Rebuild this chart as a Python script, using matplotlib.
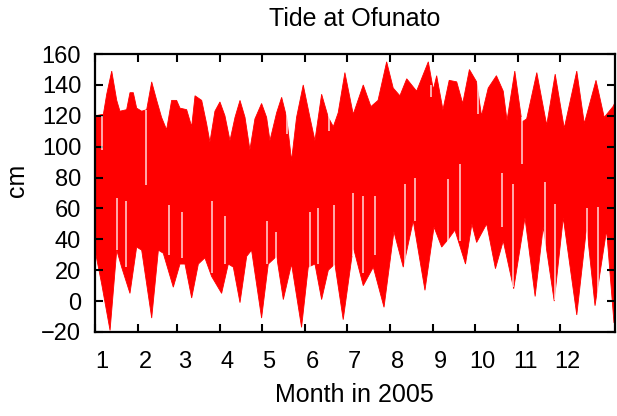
import matplotlib
matplotlib.use('Agg')
import matplotlib.pyplot as plt

plt.rcParams['font.family'] = ['Liberation Sans', 'DejaVu Sans']

# Upper envelope of the hourly record (day of year, cm)
high_day = [0, 6.0, 8.4, 12.0, 15.6, 17.9, 22.7, 25.1, 27.5, 29.9, 33.5,
            37.1, 40.7, 44.3, 47.8, 51.4, 55.0, 58.6, 61.0, 65.8, 69.4,
            71.8, 76.6, 80.1, 82.5, 86.1, 89.7, 93.3, 96.9, 100.5, 104.1,
            107.7, 111.2, 114.8, 119.6, 123.2, 125.6, 130.4, 134.0, 137.6,
            141.1, 144.7, 149.5, 154.3, 157.9, 162.7, 167.5, 171.1, 174.6,
            179.4, 185.4, 192.6, 198.1, 203.2, 209.4, 214.1, 218.9,
            223.8, 230.9, 239.3, 242.9, 245.3, 249.8, 254.3, 259.7, 264.0,
            268.8, 274.0, 277.5, 282.3, 288.2, 293.1, 295.8, 301.4, 306.5,
            309.9, 317.2, 324.3, 330.4, 336.9, 345.9, 351.3, 359.7, 365.6,
            371.9, 373]
high_cm = [120, 121, 134, 149, 130, 123, 124, 135, 135, 125, 123,
           124, 142, 130, 119, 111, 130, 130, 125, 124, 113,
           133, 130, 115, 103, 123, 129, 120, 104, 119, 130,
           119, 98, 118, 128, 119, 104, 122, 132, 119,
           91, 119, 140, 119, 104, 134, 119, 113, 122,
           148, 121, 140, 126, 130, 155, 138, 133,
           144, 136, 155, 137, 146, 124, 143, 142, 128,
           150, 142, 120, 138, 146, 136, 117, 149, 116,
           118, 148, 114, 147, 112, 149, 115, 143, 119,
           126, 128]

# Lower envelope (day of year, cm)
low_day = [0, 4.8, 10.8, 15.6, 19.1, 25.1, 29.9, 33.5, 40.7, 45.5, 49.0,
           56.2, 61.0, 64.6, 69.4, 74.2, 78.9, 83.7, 90.9, 95.7, 99.3,
           104.1, 108.9, 112.4, 119.6, 124.4, 130.4, 135.2, 141.1, 148.3,
           153.1, 157.9, 162.7, 167.5, 172.2, 178.2, 185.4, 192.6, 199.8,
           207.5, 214.6, 221.3, 228.5, 236.9, 243.4, 248.9, 253.6, 258.4,
           266.0, 270.6, 274.0, 281.2, 287.5, 293.1, 300.6, 308.7, 316.0,
           321.8, 329.7, 336.2, 345.9, 353.0, 359.0, 367.3, 372.6, 373]
low_cm = [33, 11, -19, 33, 22, 5, 35, 33, -11, 33, 31,
          9, 24, 24, 2, 24, 28, 16, 5, 24, 22,
          -1, 29, 33, -11, 24, 29, 1, 24, -17,
          22, 24, 1, 20, 24, -12, 35, 10, 22,
          -4, 45, 22, 52, 7, 48, 35, 40, 46,
          24, 50, 38, 50, 21, 39, 8, 54, 3,
          48, 0, 54, -9, 48, -3, 46, -14, -14]

# Thin white streaks where hours are missing (day, top cm, bottom cm)
gap_day = [5.0, 15.8, 22.3, 36.6, 53.1, 62.5, 84.0, 93.3, 123.5, 129.9,
           137.8, 154.3, 160.1, 167.9, 171.6, 185.2, 192.4, 201.0, 222.5,
           229.7, 241.2, 253.4, 262.0, 274.9, 292.2, 300.1, 306.5, 323.0,
           330.2, 353.2, 361.1]
gap_top = [120, 67, 65, 124, 62, 58, 65, 55, 52, 45,
           128, 58, 60, 125, 62, 70, 68, 68, 76,
           80, 140, 79, 89, 145, 83, 76, 119, 77,
           63, 60, 61]
gap_bot = [98, 33, 22, 75, 30, 28, 18, 24, 24, 12,
           108, 22, 24, 110, 14, 29, 18, 30, 20,
           52, 132, 33, 39, 121, 48, 9, 89, 20,
           1, 25, 3]

month_start = [0, 31, 59, 90, 120, 151, 181, 212, 243, 273, 304, 334]
month_labels = ['1', '2', '3', '4', '5', '6', '7', '8', '9', '10', '11', '12']
yticks = [-20, 0, 20, 40, 60, 80, 100, 120, 140, 160]

fig = plt.figure(figsize=(6.17, 4.16), dpi=100)
ax = fig.add_axes([0.154, 0.202, 0.842, 0.668])

ax.fill(high_day + low_day[::-1], high_cm + low_cm[::-1],
        color='#ff0000', lw=0.6, ec='#ff0000')
ax.vlines(gap_day, gap_bot, gap_top, color='white', lw=1.1, alpha=0.85)

ax.set_xlim(0, 373)
ax.set_ylim(-20, 160)
ax.set_yticks(yticks)

# ticks at month starts, labels a few days into each month
ax.set_xticks(month_start)
ax.set_xticklabels([])
ax.set_xticks([m + 5 for m in month_start], minor=True)
ax.set_xticklabels(month_labels, minor=True)

ax.tick_params(which='major', direction='in', top=True, right=True,
               length=6, width=1.5, labelsize=17)
ax.tick_params(axis='x', which='minor', length=0, pad=14, labelsize=17)
ax.tick_params(axis='y', pad=10)
for s in ax.spines.values():
    s.set_linewidth(1.6)

ax.set_title('Tide at Ofunato', fontsize=18, pad=20)
ax.set_xlabel('Month in 2005', fontsize=18, labelpad=7)
fig.text(0.027, 0.567, 'cm', rotation=90, fontsize=18, ha='center', va='center')

fig.savefig('out.png', dpi=100)
